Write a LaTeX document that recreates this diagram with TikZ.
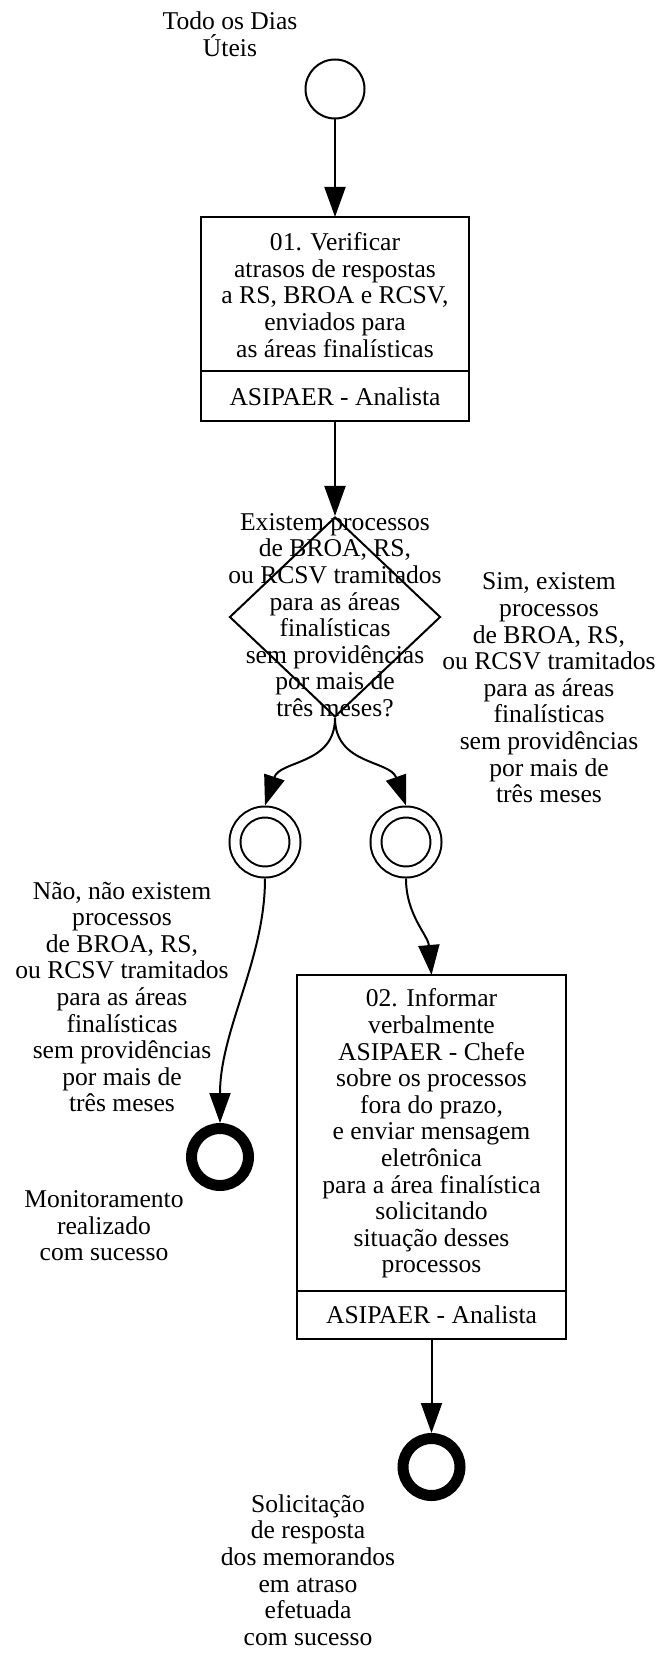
\documentclass[tikz,border=0pt]{standalone}
\usepackage{fontspec}
\setmainfont{Liberation Serif}
\usetikzlibrary{shapes.geometric,arrows.meta}
\begin{document}
\begin{tikzpicture}[x=0.5pt,y=-0.5pt,
    texto/.style={align=center,inner sep=0pt,font=\fontsize{12.8pt}{13.3pt}\selectfont},
    fluxo/.style={-{Triangle[length=15pt,width=10.5pt]},line width=1pt},
    inicio/.style={circle,draw,line width=1pt,minimum size=29.5pt,inner sep=0pt},
    gateway/.style={circle,draw,double,double distance=4.5pt,line width=1pt,minimum size=30pt,inner sep=0pt,outer sep=3.25pt},
    fim/.style={circle,draw,line width=5.5pt,minimum size=28.5pt,inner sep=0pt},
    tarefa/.style={rectangle,draw,line width=1.2pt,inner sep=0pt,outer sep=0pt},
    decisao/.style={diamond,draw,line width=1pt,minimum width=105.5pt,minimum height=100pt,inner sep=0pt}]
            \useasboundingbox (0,0) rectangle (660,1653);
            % start
            \node[inicio] (inicio) at (335,89) {};
            \node[texto] (rotinicio) at (230,34) {Todo os Dias\\Úteis};
            % 1st task
            \node[tarefa,minimum width=134pt,minimum height=102pt] (tarefa1) at (335,319) {};
            \draw[line width=1.2pt] (tarefa1.west |- 0,371) -- (tarefa1.east |- 0,371);
            \node[texto] (txt1) at (335,295) {01. Verificar\\atrasos de respostas\\a RS, BROA e RCSV,\\enviados para\\as áreas finalísticas};
            \node[texto] (resp1) at (335,397) {ASIPAER - Analista};
            % decision
            \node[decisao] (decisao) at (335,617) {};
            \node[texto] (txtdecisao) at (335,615) {Existem processos\\de BROA, RS,\\ou RCSV tramitados\\para as áreas\\finalísticas\\sem providências\\por mais de\\três meses?};
            \node[texto] (rotsim) at (549,688) {Sim, existem\\processos\\de BROA, RS,\\ou RCSV tramitados\\para as áreas\\finalísticas\\sem providências\\por mais de\\três meses};
            % gateways
            \node[gateway] (gw1) at (265,842) {};
            \node[gateway] (gw2) at (406,842) {};
            \node[texto] (rotnao) at (122,997) {Não, não existem\\processos\\de BROA, RS,\\ou RCSV tramitados\\para as áreas\\finalísticas\\sem providências\\por mais de\\três meses};
            % 1st end
            \node[fim] (fim1) at (220,1157) {};
            \node[texto] (rotfim1) at (104,1226) {Monitoramento\\realizado\\com sucesso};
            % 2nd task
            \node[tarefa,minimum width=134.5pt,minimum height=182pt] (tarefa2) at (431.5,1157) {};
            \draw[line width=1.2pt] (tarefa2.west |- 0,1291) -- (tarefa2.east |- 0,1291);
            \node[texto] (txt2) at (431.5,1133.5) {02. Informar\\verbalmente\\ASIPAER - Chefe\\sobre os processos\\fora do prazo,\\e enviar mensagem\\eletrônica\\para a área finalística\\solicitando\\situação desses\\processos};
            \node[texto] (resp2) at (431.5,1315) {ASIPAER - Analista};
            % 2nd end
            \node[fim] (fim2) at (431.5,1467) {};
            \node[texto] (rotfim2) at (308,1570) {Solicitação\\de resposta\\dos memorandos\\em atraso\\efetuada\\com sucesso};
            % arrows
            \draw[fluxo] (inicio) -- (tarefa1);
            \draw[fluxo] (tarefa1) -- (decisao);
            \draw[fluxo] (decisao.south) .. controls (335,765) and (280,760) .. (gw1.north);
            \draw[fluxo] (decisao.south) .. controls (335,765) and (390,760) .. (gw2.north);
            \draw[fluxo] (gw1.south) .. controls (265,960) and (220,1030) .. (fim1.north);
            \draw[fluxo] (gw2.south) .. controls (406,915) and (428,935) .. (tarefa2.north);
            \draw[fluxo] (tarefa2) -- (fim2);
            \end{tikzpicture}
\end{document}
